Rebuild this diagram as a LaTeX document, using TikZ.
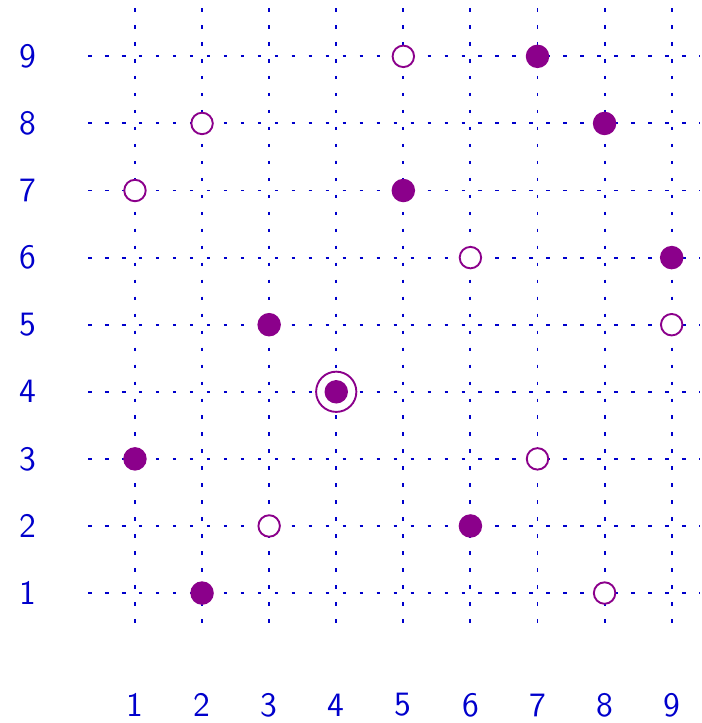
\documentclass[tikz,border=0pt]{standalone}
\usepackage{tikz}
\usetikzlibrary{positioning}
\definecolor{GridBlue}{HTML}{0000CC}
\definecolor{StonePurple}{HTML}{8B008B}

\begin{document}
\begin{tikzpicture}[
        font=\sffamily\fontsize{14.5}{17}\selectfont,
        gridline/.style={GridBlue, line width=0.8pt, dash pattern=on 1.5pt off 5.7pt},
        lbl/.style={text=GridBlue, inner sep=0pt},
        full/.style={circle, fill=StonePurple, minimum size=0.35cm, inner sep=0pt},
        open/.style={circle, draw=StonePurple, fill=white, line width=0.8pt,
                     minimum size=0.32cm, inner sep=0pt},
        ring/.style={circle, draw=StonePurple, fill=white, line width=0.8pt,
                     minimum size=0.6cm, inner sep=0pt},
      ]
        \useasboundingbox (-1.012,-0.937) rectangle (9.45,9.84);
        % grid
        \foreach \i in {1,...,9} {
            \draw[gridline] (0.30,\i) -- (9.42,\i);
            \draw[gridline] (\i,9.72) -- (\i,0.37);
            \node[lbl] (row\i) at (-0.59,\i) {\i};
            \node[lbl] (col\i) at (\i,-0.67) {\i};
        }
        % open stones
        \foreach \x/\y in {5/9, 2/8, 1/7, 6/6, 9/5, 7/3, 3/2, 8/1}
            \node[open] (w\x\y) at (\x,\y) {};
        % marked stone
        \node[ring] (mark) at (4,4) {};
        % full stones
        \foreach \x/\y in {7/9, 8/8, 5/7, 9/6, 3/5, 4/4, 1/3, 6/2, 2/1}
            \node[full] (b\x\y) at (\x,\y) {};
      \end{tikzpicture}
\end{document}
